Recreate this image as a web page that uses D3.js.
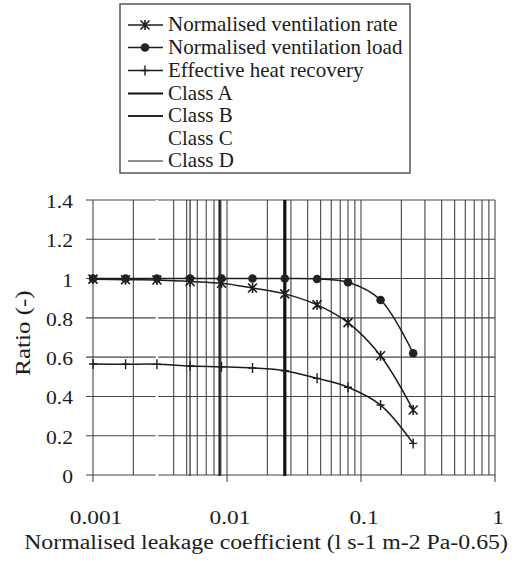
<!DOCTYPE html>
<html><head><meta charset="utf-8">
<script src="https://cdn.jsdelivr.net/npm/d3@7"></script>
<style>html,body{margin:0;padding:0;background:#fff;}svg{display:block;}
svg text{font-family:"Liberation Serif","Times New Roman",Times,serif;}</style>
</head><body>
<svg id="c" width="523" height="573"></svg>
<script>
// ---- data ----
const leakage = [0.001, 0.00175, 0.003, 0.0053, 0.0091, 0.0155, 0.027, 0.047, 0.08, 0.14, 0.245];
const ventRate = [0.997, 0.994, 0.993, 0.985, 0.976, 0.952, 0.922, 0.866, 0.776, 0.607, 0.331];
const ventLoad = [1.0, 1.0, 1.0, 1.0, 1.0, 1.0, 1.0, 0.998, 0.981, 0.891, 0.62];
const heatRecovery = [0.565, 0.564, 0.564, 0.555, 0.551, 0.545, 0.531, 0.492, 0.447, 0.356, 0.161];
const classNames = ["Class A", "Class B", "Class C", "Class D"];
const classValues = [0.027, 0.0088, 0.003, 0.0053];
const seriesNames = ["Normalised ventilation rate", "Normalised ventilation load", "Effective heat recovery"];
const xTickValues = [0.001, 0.01, 0.1, 1];
const xTickLabels = ["0.001", "0.01", "0.1", "1"];
const yTickValues = [0, 0.2, 0.4, 0.6, 0.8, 1, 1.2, 1.4];
const yTickLabels = ["0", "0.2", "0.4", "0.6", "0.8", "1", "1.2", "1.4"];
const xTitle = "Normalised leakage coefficient (l s-1 m-2 Pa-0.65)";
const yTitle = "Ratio (-)";

// ---- drawing ----
const svg = d3.select("#c");
const INK = "#1c1c1c";
const x = d3.scaleLog().domain([0.001, 1]).range([93, 495]);
const y = d3.scaleLinear().domain([0, 1.4]).range([475, 200]);

const grid = svg.append("g");
grid.selectAll("line.v").data(x.ticks()).join("line")
  .attr("x1", d => x(d)).attr("x2", d => x(d))
  .attr("y1", y(1.4)).attr("y2", d => xTickValues.includes(d) ? y(0) + 7 : y(0))
  .attr("stroke", "#444").attr("stroke-width", 1.1);
grid.selectAll("line.h").data(yTickValues).join("line")
  .attr("x1", x(0.001) - 7).attr("x2", x(1))
  .attr("y1", d => y(d)).attr("y2", d => y(d))
  .attr("stroke", "#444").attr("stroke-width", 1.1);

const classStyle = [
  {w: 3.2, c: "#111"}, {w: 2.2, c: "#222"}, {w: 2.5, c: "#ffffff"}, {w: 1.2, c: "#222"}
];
svg.append("g").selectAll("line").data(classValues).join("line")
  .attr("x1", d => x(d)).attr("x2", d => x(d))
  .attr("y1", y(1.4)).attr("y2", y(0) + 1)
  .attr("stroke", (d, i) => classStyle[i].c)
  .attr("stroke-width", (d, i) => classStyle[i].w);

const series = [ventRate, ventLoad, heatRecovery];
const line = d3.line().x((d, i) => x(leakage[i])).y(d => y(d)).curve(d3.curveCatmullRom.alpha(0.5));
svg.append("g").selectAll("path").data(series).join("path")
  .attr("d", line).attr("fill", "none").attr("stroke", INK).attr("stroke-width", 1.5);

function star(g, cx, cy, s) {
  const p = `M${cx - s},${cy - s}L${cx + s},${cy + s}M${cx - s},${cy + s}L${cx + s},${cy - s}M${cx},${cy - s * 1.1}L${cx},${cy + s * 1.1}`;
  g.append("path").attr("d", p).attr("stroke", INK).attr("stroke-width", 1.6).attr("fill", "none");
}
function dot(g, cx, cy, r) {
  g.append("circle").attr("cx", cx).attr("cy", cy).attr("r", r).attr("fill", "#222");
}
function plus(g, cx, cy, s) {
  g.append("path").attr("d", `M${cx - s * 0.8},${cy}L${cx + s * 0.8},${cy}M${cx},${cy - s}L${cx},${cy + s}`)
    .attr("stroke", INK).attr("stroke-width", 1.4);
}
const markerFns = [(g, a, b) => star(g, a, b, 4.5), (g, a, b) => dot(g, a, b, 4.3), (g, a, b) => plus(g, a, b, 5)];
const mg = svg.append("g");
series.forEach((s, k) => s.forEach((v, i) => markerFns[k](mg, x(leakage[i]), y(v))));

function stext(sel, str, tx, ty, size, sx, anchor, rot) {
  return sel.append("text").text(str)
    .attr("font-size", size).attr("fill", INK)
    .attr("text-anchor", anchor)
    .attr("transform", `translate(${tx},${ty})${rot ? " rotate(" + rot + ")" : ""} scale(${sx},1)`);
}
const lab = svg.append("g");
yTickValues.forEach((v, i) => stext(lab, yTickLabels[i], 73, y(v) + 8, 18, 1.2, "end"));
xTickValues.forEach((v, i) => stext(lab, xTickLabels[i], x(v) + 3, 524, 18, 1.3, "middle"));
stext(lab, xTitle, 266, 549, 20, 1.19, "middle");
stext(lab, yTitle, 30, 333, 20, 1.25, "middle", -90);

const lg = svg.append("g");
lg.append("rect").attr("x", 120).attr("y", 4).attr("width", 290).attr("height", 169)
  .attr("fill", "#fff").attr("stroke", "#555").attr("stroke-width", 1.5);
const rowBase = [31, 53.5, 76.5, 99.5, 122, 144.5, 167];
const legendItems = seriesNames.map((n, i) => ({name: n, kind: "s", i}))
  .concat(classNames.map((n, i) => ({name: n, kind: "c", i})));
legendItems.forEach((it, r) => {
  const ly = rowBase[r] - 6;
  if (it.kind === "s") {
    lg.append("line").attr("x1", 128).attr("x2", 163).attr("y1", ly).attr("y2", ly)
      .attr("stroke", INK).attr("stroke-width", 1.5);
    markerFns[it.i](lg, 145, ly);
  } else {
    lg.append("line").attr("x1", 128).attr("x2", 163).attr("y1", ly).attr("y2", ly)
      .attr("stroke", classStyle[it.i].c).attr("stroke-width", Math.min(classStyle[it.i].w, 2.2));
  }
  stext(lg, it.name, 168, rowBase[r], 20, 1.05, "start");
});
</script>
</body></html>
